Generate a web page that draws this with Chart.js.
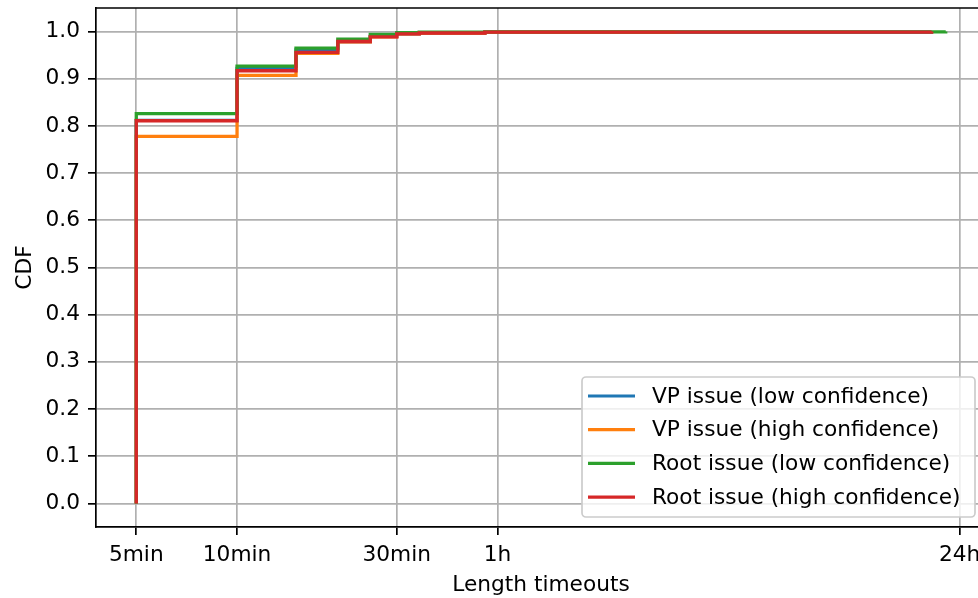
<!DOCTYPE html>
<html lang="en">
<head>
  <meta charset="UTF-8" />
  <title>CDF of timeout lengths</title>
  <script src="https://cdn.jsdelivr.net/npm/chart.js"></script>
  <style>
    html, body { margin: 0; padding: 0; overflow: hidden; background: #fff; }
    #wrap { width: 978px; height: 598px; overflow: hidden; }
    canvas { display: block; }
  </style>
</head>
<body>
<div id="wrap">
  <canvas id="cdfChart" width="1000" height="598"></canvas>
</div>
<script>
  // timeout lengths in minutes, cumulative share
  const seriesNames = [
    'VP issue (low confidence)',
    'VP issue (high confidence)',
    'Root issue (low confidence)',
    'Root issue (high confidence)'
  ];
  const seriesColors = ['#1f77b4', '#ff7f0e', '#2ca02c', '#d62728'];

  const vpLowX = [5, 5, 10, 15, 20, 25, 30, 35, 55, 1185];
  const vpLowY = [0, 0.812, 0.922, 0.961, 0.979, 0.990, 0.995, 0.997, 0.999, 1.0];

  const vpHighX = [5, 5, 10, 15, 20, 25, 30, 35, 55, 203];
  const vpHighY = [0, 0.778, 0.907, 0.954, 0.978, 0.989, 0.995, 0.997, 0.999, 1.0];

  const rootLowX = [5, 5, 10, 15, 20, 25, 30, 35, 55, 1309];
  const rootLowY = [0, 0.826, 0.927, 0.965, 0.984, 0.994, 0.998, 0.999, 0.9995, 1.0];

  const rootHighX = [5, 5, 10, 15, 20, 25, 30, 35, 55, 1189];
  const rootHighY = [0, 0.811, 0.917, 0.956, 0.979, 0.989, 0.995, 0.997, 0.999, 1.0];

  const xTickValues = [5, 10, 30, 60, 1440];
  const xTickLabels = ['5min', '10min', '30min', '1h', '24h'];
  const yTickValues = [0, 0.1, 0.2, 0.3, 0.4, 0.5, 0.6, 0.7, 0.8, 0.9, 1.0];

  const allX = [vpLowX, vpHighX, rootLowX, rootHighX];
  const allY = [vpLowY, vpHighY, rootLowY, rootHighY];

  function toPoints(xs, ys) {
    return xs.map((x, i) => ({ x: x, y: ys[i] }));
  }

  const fontSize = 21.7;
  Chart.defaults.font.family = "'DejaVu Sans', sans-serif";
  Chart.defaults.font.size = fontSize;
  Chart.defaults.color = '#000';

  const gridColor = '#b0b0b0';
  const lw = 1.7;

  // top/right spines and the matplotlib style legend box
  const framePlugin = {
    id: 'frame',
    afterDraw(chart) {
      const ctx = chart.ctx;
      const a = chart.chartArea;
      ctx.save();
      ctx.strokeStyle = '#000';
      ctx.lineWidth = lw;
      ctx.beginPath();
      ctx.moveTo(a.left, a.top);
      ctx.lineTo(a.right, a.top);
      ctx.lineTo(a.right, a.bottom);
      ctx.stroke();

      // legend
      const boxW = 393, boxH = 140;
      const bx = a.right - 11 - boxW;
      const by = a.bottom - 10 - boxH;
      ctx.beginPath();
      ctx.roundRect(bx, by, boxW, boxH, 4);
      ctx.fillStyle = 'rgba(255,255,255,0.8)';
      ctx.fill();
      ctx.strokeStyle = '#cccccc';
      ctx.lineWidth = 1.7;
      ctx.stroke();

      ctx.font = fontSize + "px 'DejaVu Sans', sans-serif";
      ctx.textBaseline = 'middle';
      ctx.textAlign = 'left';
      chart.data.datasets.forEach((ds, i) => {
        const cy = by + 19 + i * 33.7;
        ctx.beginPath();
        ctx.moveTo(bx + 6, cy);
        ctx.lineTo(bx + 53, cy);
        ctx.strokeStyle = ds.borderColor;
        ctx.lineWidth = 3.2;
        ctx.stroke();
        ctx.fillStyle = '#000';
        ctx.fillText(ds.label, bx + 70, cy + 1);
      });
      ctx.restore();
    }
  };

  const ctx = document.getElementById('cdfChart').getContext('2d');
  new Chart(ctx, {
    type: 'line',
    data: {
      datasets: seriesNames.map((name, i) => ({
        label: name,
        data: toPoints(allX[i], allY[i]),
        borderColor: seriesColors[i],
        backgroundColor: seriesColors[i],
        borderWidth: 3.3,
        pointRadius: 0,
        stepped: true,
        fill: false,
        order: seriesNames.length - i
      }))
    },
    options: {
      responsive: false,
      animation: false,
      devicePixelRatio: 1,
      layout: { padding: { top: 8, right: 14, left: 0, bottom: 0 } },
      plugins: {
        legend: { display: false },
        tooltip: { enabled: false }
      },
      scales: {
        x: {
          type: 'logarithmic',
          min: 3.79,
          max: 1727,
          afterFit(scale) {
            scale.height = 71;
            scale.paddingLeft = 0;
            scale.paddingRight = 0;
          },
          afterBuildTicks(scale) {
            scale.ticks = xTickValues.map(v => ({ value: v }));
          },
          ticks: {
            autoSkip: false,
            maxRotation: 0,
            padding: 7,
            color: '#000',
            callback: (val, idx) => xTickLabels[idx]
          },
          grid: {
            color: gridColor,
            lineWidth: lw,
            drawTicks: true,
            tickLength: 8,
            tickColor: '#000',
            tickWidth: lw
          },
          border: { display: true, color: '#000', width: lw },
          title: {
            display: true,
            text: 'Length timeouts',
            color: '#000',
            padding: { top: 0, bottom: 0 }
          }
        },
        y: {
          type: 'linear',
          min: -0.05,
          max: 1.05,
          afterFit(scale) {
            scale.width = 96;
            scale.paddingTop = 0;
            scale.paddingBottom = 0;
          },
          afterBuildTicks(scale) {
            scale.ticks = yTickValues.map(v => ({ value: v }));
          },
          ticks: {
            padding: 8,
            color: '#000',
            callback: v => v.toFixed(1)
          },
          grid: {
            color: gridColor,
            lineWidth: lw,
            drawTicks: true,
            tickLength: 8,
            tickColor: '#000',
            tickWidth: lw
          },
          border: { display: true, color: '#000', width: lw },
          title: {
            display: true,
            text: 'CDF',
            color: '#000',
            padding: { top: 12, bottom: 0 }
          }
        }
      }
    },
    plugins: [framePlugin]
  });
</script>
</body>
</html>
